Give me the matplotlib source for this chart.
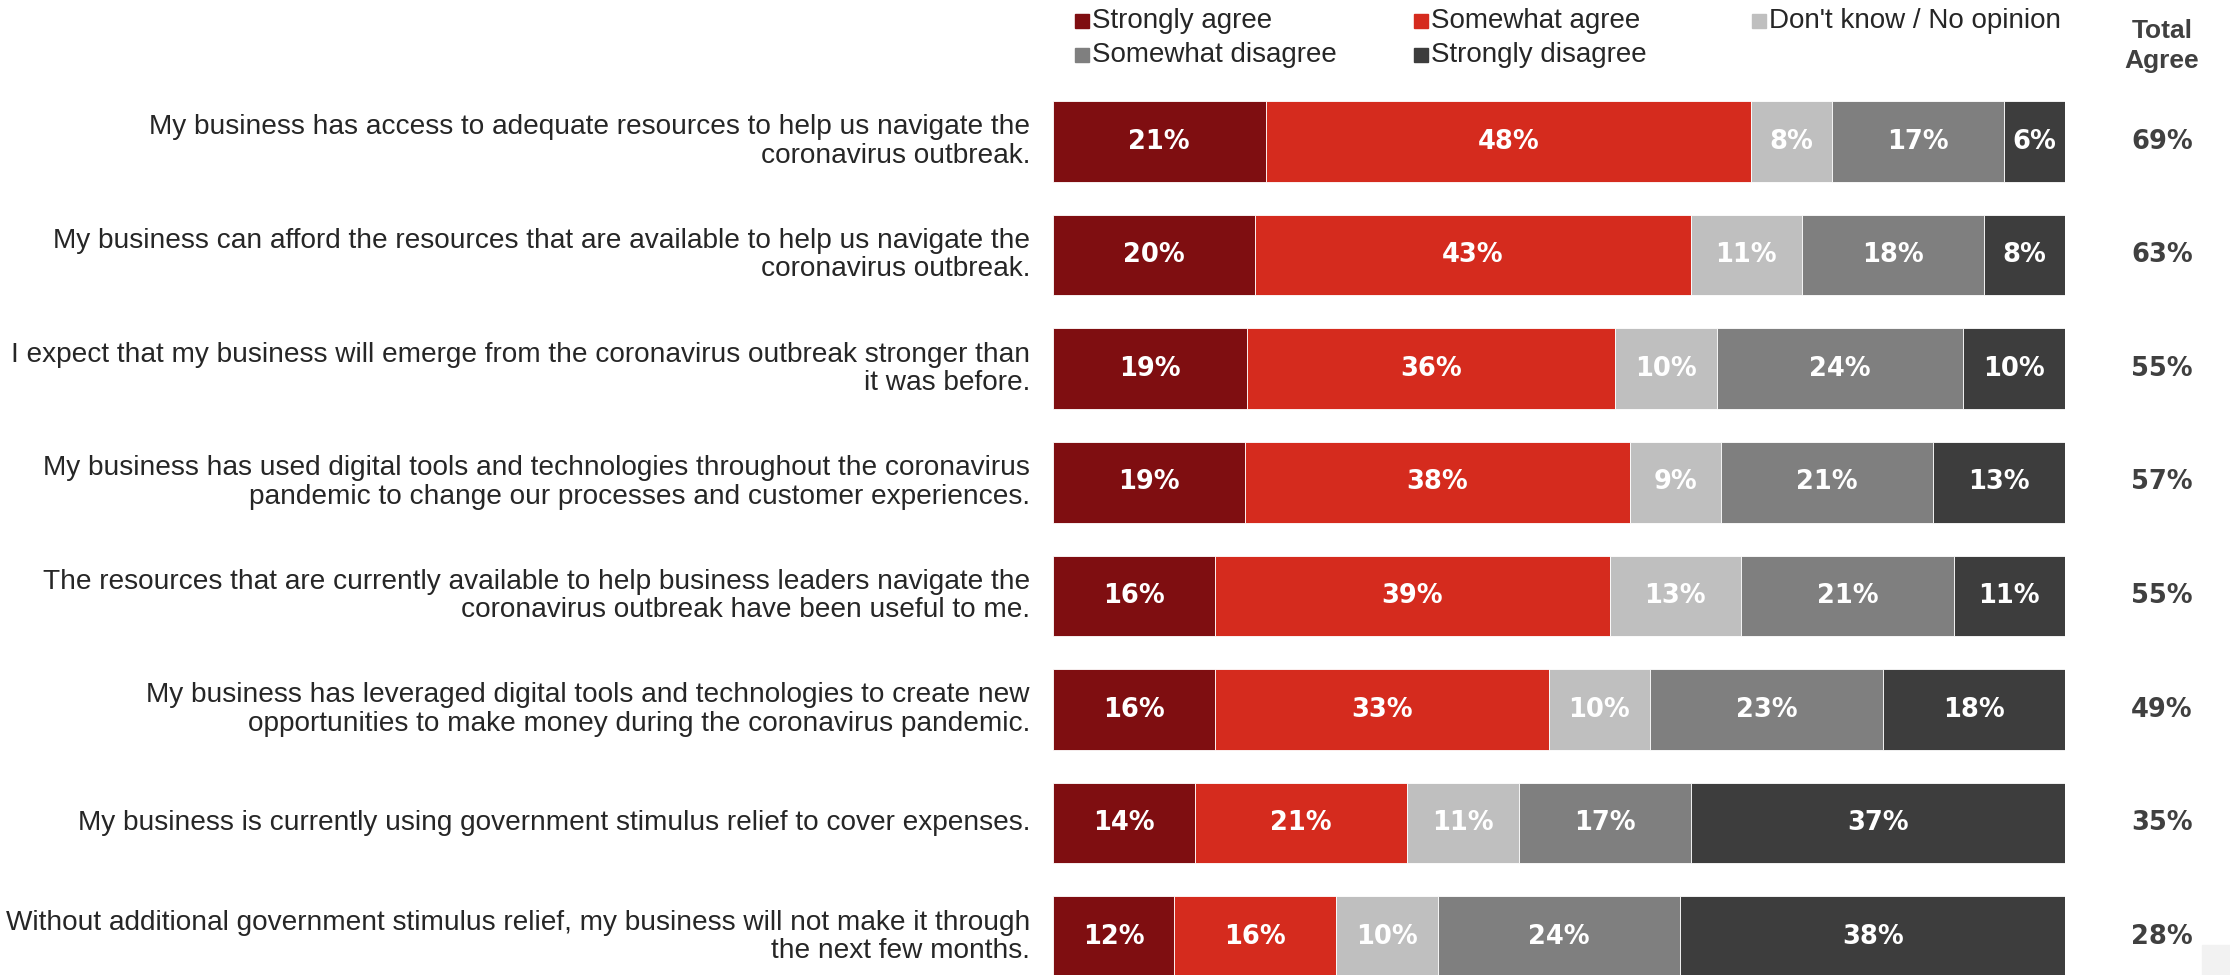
import numpy as np
import matplotlib.pyplot as plt
from matplotlib.patches import Rectangle
from matplotlib.transforms import blended_transform_factory

# Data
statements = [
    "My business has access to adequate resources to help us navigate the\ncoronavirus outbreak.",
    "My business can afford the resources that are available to help us navigate the\ncoronavirus outbreak.",
    "I expect that my business will emerge from the coronavirus outbreak stronger than\nit was before.",
    "My business has used digital tools and technologies throughout the coronavirus\npandemic to change our processes and customer experiences.",
    "The resources that are currently available to help business leaders navigate the\ncoronavirus outbreak have been useful to me.",
    "My business has leveraged digital tools and technologies to create new\nopportunities to make money during the coronavirus pandemic.",
    "My business is currently using government stimulus relief to cover expenses.",
    "Without additional government stimulus relief, my business will not make it through\nthe next few months.",
]
categories = ["Strongly agree", "Somewhat agree", "Don't know / No opinion",
              "Somewhat disagree", "Strongly disagree"]
strongly_agree = [21, 20, 19, 19, 16, 16, 14, 12]
somewhat_agree = [48, 43, 36, 38, 39, 33, 21, 16]
dont_know = [8, 11, 10, 9, 13, 10, 11, 10]
somewhat_disagree = [17, 18, 24, 21, 21, 23, 17, 24]
strongly_disagree = [6, 8, 10, 13, 11, 18, 37, 38]
total_agree = [69, 63, 55, 57, 55, 49, 35, 28]

colors = ["#7F0E11", "#D52B1E", "#BFBFBF", "#7F7F7F", "#3D3D3D"]

series = np.array([strongly_agree, somewhat_agree, dont_know,
                   somewhat_disagree, strongly_disagree], dtype=float)
# bars in the original are all full width, so scale rounded values to 100
widths = series / series.sum(axis=0) * 100

W, H = 2230, 975
fig = plt.figure(figsize=(W / 100, H / 100), dpi=100)
ax = fig.add_axes([1053 / W, 0, (2065 - 1053) / W, 1])

y = np.arange(len(statements))
left = np.zeros(len(statements))
for k in range(len(categories)):
    bars = ax.barh(y, widths[k], left=left, height=0.71, color=colors[k],
                   edgecolor="white", linewidth=0.6)
    for b, v in zip(bars, series[k]):
        ax.text(b.get_x() + b.get_width() / 2, b.get_y() + b.get_height() / 2,
                f"{int(v)}%", ha="center", va="center", color="white",
                fontsize=18.5, fontweight="bold", family="DejaVu Sans")
    left += widths[k]

ax.set_xlim(0, 100)
ax.set_ylim(7.337, -1.246)
ax.axis("off")

# statement labels
trans = blended_transform_factory(fig.transFigure, ax.transData)
for i, s in enumerate(statements):
    ax.text(1030 / W, i, s, transform=trans, ha="right", va="center",
            ma="right", fontsize=20.2, family="Liberation Sans", color="#262626",
            linespacing=1.12)

# total agree column
for i, t in enumerate(total_agree):
    ax.text(2162 / W, i, f"{t}%", transform=trans, ha="center", va="center",
            fontsize=18.5, fontweight="bold", family="DejaVu Sans", color="#404040")
fig.text(2162 / W, 1 - 46 / H, "Total\nAgree", ha="center", va="center",
         fontsize=19, fontweight="bold", family="Liberation Sans",
         color="#404040", linespacing=1.35)

# legend
leg_pos = [(1075, 21), (1414, 21), (1752, 21), (1075, 55), (1414, 55)]
for (px, py), lab, c in zip(leg_pos, categories, colors):
    fig.patches.append(Rectangle((px / W, 1 - (py + 7) / H), 14 / W, 14 / H,
                                 transform=fig.transFigure, color=c))
    fig.text((px + 17) / W, 1 - py / H, lab, ha="left", va="center",
             fontsize=20, family="Liberation Sans", color="#262626")

fig.patches.append(Rectangle((2202 / W, 0), 28 / W, 30 / H,
                             transform=fig.transFigure, color="#F2F2F2"))

fig.savefig("out.png", dpi=100)
